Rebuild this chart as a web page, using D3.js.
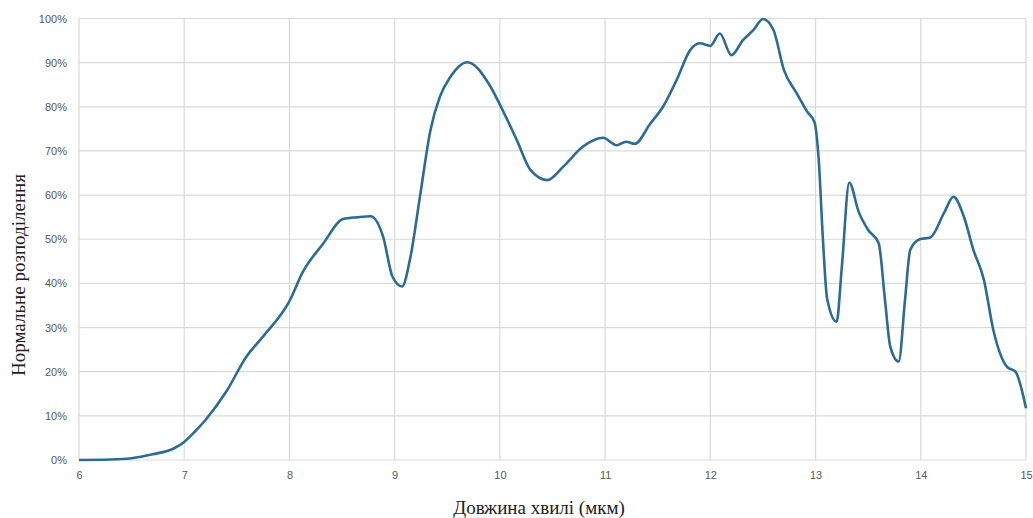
<!DOCTYPE html>
<html>
<head>
<meta charset="utf-8">
<script src="https://cdn.jsdelivr.net/npm/d3@7"></script>
<style>
  body { margin: 0; background: #fff; }
  .tick text { font-family: "Liberation Sans", Arial, sans-serif; fill: #595959; }
</style>
</head>
<body>
<div id="chart"></div>
<script>
// wavelength (мкм) and normalised distribution (%)
const wavelength = [6.0, 6.3, 6.5, 6.7, 6.9, 7.0, 7.1, 7.2, 7.4, 7.59, 7.75, 8.0, 8.13, 8.32, 8.51, 8.65, 8.77, 8.89, 8.98, 9.07, 9.15, 9.24, 9.34, 9.43, 9.53, 9.69, 9.91, 10.0, 10.16, 10.29, 10.45, 10.6, 10.79, 10.98, 11.11, 11.2, 11.28, 11.43, 11.55, 11.68, 11.81, 11.9, 12.0, 12.09, 12.2, 12.31, 12.41, 12.5, 12.6, 12.7, 12.82, 12.92, 12.99, 13.03, 13.07, 13.11, 13.2, 13.25, 13.32, 13.41, 13.5, 13.6, 13.66, 13.71, 13.79, 13.85, 13.9, 13.99, 14.09, 14.22, 14.31, 14.41, 14.5, 14.6, 14.69, 14.82, 14.9, 15.0];
const distribution = [0, 0.1, 0.4, 1.3, 2.6, 4.1, 6.4, 9.0, 15.5, 23.4, 28, 36.0, 42.7, 49.0, 54.6, 55.0, 55.2, 50.6, 41.5, 39.3, 46, 59.6, 74.7, 82.3, 86.8, 90.1, 84.6, 80.5, 72.5, 65.7, 63.4, 66.4, 71.0, 73.0, 71.3, 72.1, 71.6, 76.2, 80.0, 86.1, 92.9, 94.4, 93.8, 96.6, 91.7, 95.1, 97.4, 99.9, 97.4, 88.3, 83.1, 78.9, 76.5, 68, 50, 36.5, 31.3, 43.8, 62.8, 56.2, 52.1, 49.1, 36.2, 25.7, 22.3, 36.2, 47.6, 50.0, 50.4, 55.9, 59.6, 55.1, 47.6, 40.8, 29.4, 21.1, 20.0, 11.7];

const xTicks = [6, 7, 8, 9, 10, 11, 12, 13, 14, 15];
const yTicks = [0, 10, 20, 30, 40, 50, 60, 70, 80, 90, 100];

const width = 1033, height = 518;
const margin = { top: 18.5, right: 7, bottom: 58, left: 79 };

const svg = d3.select("#chart")
    .append("svg")
    .attr("width", width)
    .attr("height", height);

const x = d3.scaleLinear().domain([6, 15]).range([margin.left, width - margin.right]);
const y = d3.scaleLinear().domain([0, 100]).range([height - margin.bottom, margin.top]);

// gridlines
svg.append("g")
    .selectAll("line.h")
    .data(yTicks)
    .enter()
    .append("line")
    .attr("x1", x(6)).attr("x2", x(15))
    .attr("y1", (d) => y(d)).attr("y2", (d) => y(d))
    .style("stroke", "#d9d9d9")
    .style("stroke-width", 1.2);

svg.append("g")
    .selectAll("line.v")
    .data(xTicks)
    .enter()
    .append("line")
    .attr("x1", (d) => x(d)).attr("x2", (d) => x(d))
    .attr("y1", y(0)).attr("y2", y(100))
    .style("stroke", "#d9d9d9")
    .style("stroke-width", 1.2);

// axes (labels only)
const xAxis = svg.append("g")
    .attr("transform", `translate(0,${y(0)})`)
    .call(d3.axisBottom(x).tickValues(xTicks).tickSize(0).tickPadding(11));
xAxis.select(".domain").remove();
xAxis.selectAll("text").style("font-size", "11px");

const yAxis = svg.append("g")
    .attr("transform", `translate(${x(6)},0)`)
    .call(d3.axisLeft(y).tickValues(yTicks).tickSize(0).tickPadding(12).tickFormat((d) => d + "%"));
yAxis.select(".domain").remove();
yAxis.selectAll("text").style("font-size", "11px");

// the curve
const line = d3.line()
    .x((d, i) => x(wavelength[i]))
    .y((d) => y(d))
    .curve(d3.curveMonotoneX);

svg.append("path")
    .datum(distribution)
    .attr("d", line)
    .style("fill", "none")
    .style("stroke", "#2b6c95")
    .style("stroke-width", 2.6)
    .style("stroke-linejoin", "round");

// axis titles
svg.append("text")
    .attr("x", 539)
    .attr("y", 514)
    .attr("text-anchor", "middle")
    .style("font-family", "Liberation Serif, Times New Roman, serif")
    .style("font-size", "19px")
    .style("fill", "#222")
    .text("Довжина хвилі (мкм)");

svg.append("text")
    .attr("transform", "translate(25,275) rotate(-90)")
    .attr("text-anchor", "middle")
    .style("font-family", "Liberation Serif, Times New Roman, serif")
    .style("font-size", "19px")
    .style("fill", "#222")
    .text("Нормальне розподілення");
</script>
</body>
</html>
